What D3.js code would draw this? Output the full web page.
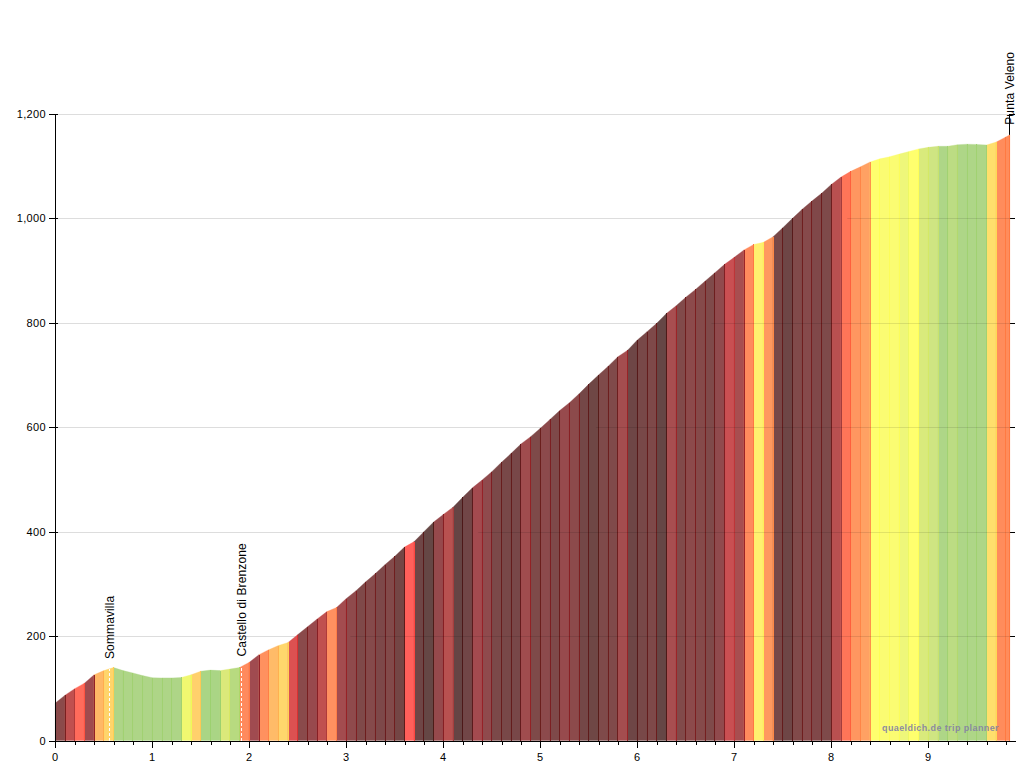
<!DOCTYPE html>
<html><head><meta charset="utf-8">
<script src="https://cdn.jsdelivr.net/npm/d3@7"></script>
<style>
html,body{margin:0;padding:0;background:#fff}
svg{display:block}
text{font-family:"Liberation Sans",Arial,sans-serif;fill:#000}
</style></head><body>
<script>
const lastKm = 9.84;
const elevation = [
  72,87,99.5,110,126,134,140,134,129.5,124.5,
  120.5,120,120,121,126,133,135,134,137,140,
  150,164.6,174,182,188,203,218,233,247,255,
  272,287,304,320,337,353,370.6,381,400,418.5,
  433,447,466,484,499,515,533,550,568,582,
  598,615,632,647,664,682.6,700,717,735,747.5,
  767,783,799,818,832.5,849,864,880,896,912,
  925.5,939.6,950,954,965,982,1000,1017.5,1033,1048,
  1065,1079,1090,1098.6,1108,1114,1118,1123,1128,1133,
  1136,1138,1138,1141,1142,1141.5,1140.6,1146,1156,1160];
const segmentColors = [
  "#8a4a4a","#c0504f","#ff6b5b","#a04b4e","#ffb866","#ffd56b","#aed587","#aed587","#aed587","#aed587",
  "#aed587","#aed587","#aed587","#f0f870","#ffd06c","#aad585","#aad585","#dbe97a","#b8da80","#ff8a5d",
  "#a04b50","#ff915f","#ffbb68","#ffd76c","#dc5151","#8a4a4b","#98494d","#c0504f","#ff9060","#a34c4f",
  "#8f4a4c","#7f4949","#854a4b","#7d4849","#824a4a","#744645","#ff5f5a","#6e4646","#654745","#96494c",
  "#b85150","#654444","#714647","#a34a4f","#8f4a4d","#7b4949","#784848","#784748","#a04c4e","#7e4a49",
  "#8c4a4c","#7e4949","#974a4d","#8c4a4b","#744747","#6f4745","#7f4a4a","#804a4a","#a44d4f","#6e4646",
  "#784848","#7e4949","#654645","#a84e50","#814a4a","#8c4a4b","#854a4a","#7f4a4a","#904a4d","#c94f52",
  "#a84e50","#ff8a5d","#fff06f","#ff985f","#784848","#6e4646","#814a4a","#864a4b","#804849","#7e4a4a",
  "#b85050","#ff7558","#ff9660","#ffa163","#ffff6e","#fbfc72","#fbfc72","#eef77a","#ffff6e","#d9ea7c",
  "#cfe582","#aed687","#bcdc83","#aed687","#aed687","#aed687","#ffdf6c","#ff8c5c","#ff8c5c"];
const xMajorTicks = [0,1,2,3,4,5,6,7,8,9];
const xMinorTicks = [0.2,0.4,0.6,0.8,1.2,1.4,1.6,1.8,2.2,2.4,2.6,2.8,3.2,3.4,3.6,3.8,4.2,4.4,4.6,4.8,5.2,5.4,5.6,5.8,6.2,6.4,6.6,6.8,7.2,7.4,7.6,7.8,8.2,8.4,8.6,8.8,9.2,9.4,9.6,9.8];
const yTicks = [0,200,400,600,800,1000,1200];
const placeNames = ["Sommavilla","Castello di Brenzone","Punta Veleno"];
const placeKm = [0.56,1.92,9.84];
const placeElevation = [137,142,1160];
const dashedPlaces = [0,1];
const credit = "quaeldich.de trip planner";

const W = 1024, H = 768;
const x = d3.scaleLinear().domain([0,9.9]).range([55.3,1015.6]);
const y = d3.scaleLinear().domain([0,1200]).range([740.6,113.9]);
const kmAt = i => i < elevation.length-1 ? i/10 : lastKm;
const points = elevation.map((e,i)=>({km:kmAt(i),e}));

const svg = d3.select("body").append("svg").attr("width",W).attr("height",H);
const axisStyle = g => {
  g.selectAll(".domain,line").attr("stroke","#000").attr("shape-rendering","crispEdges");
  g.selectAll("text").attr("font-size",11).attr("letter-spacing","0.35px").attr("fill","#000").attr("font-family",'"Liberation Sans",Arial,sans-serif');
};
const gridAxis = d3.axisLeft(y).tickValues(yTicks).tickSize(-(x(lastKm)-55)).tickFormat("");
const gridLines = (op) => svg.append("g").attr("transform","translate(55,0)").call(gridAxis)
  .call(g=>g.select(".domain").remove())
  .call(g=>g.selectAll("line").attr("stroke","#000").attr("stroke-opacity",op).attr("shape-rendering","crispEdges"));

// right axis behind the profile
svg.append("g").attr("transform",`translate(${Math.floor(x(lastKm))},0)`)
  .call(d3.axisRight(y).tickValues(yTicks).tickSize(6).tickSizeOuter(0).tickFormat(""))
  .call(axisStyle);

gridLines(0.135);

// profile
const area = d3.area().x(d=>x(d.km)).y0(y(0)).y1(d=>y(d.e));
const segs = segmentColors.map((c,i)=>({c,pts:[points[i],points[i+1]]}));
svg.append("g").selectAll("path").data(segs).join("path")
  .attr("d",d=>area(d.pts)).attr("fill",d=>d.c).attr("stroke",d=>d.c).attr("stroke-width",0.3);

// separators: right edge of every segment
const sepColor = c => { const h=d3.hsl(c); const l=h.l;
  return d3.hsl(h.h, Math.min(1,h.s+(l<0.5?0.5:0.08)*(1-l)), l-(l<0.5?0.2:0.16)*(1-l)).formatHex(); };
svg.append("g").selectAll("line").data(segs).join("line")
  .attr("x1",d=>x(d.pts[1].km)).attr("x2",d=>x(d.pts[1].km))
  .attr("y1",y(0)).attr("y2",d=>y(d.pts[1].e))
  .attr("stroke",d=>sepColor(d.c)).attr("stroke-width",1).attr("shape-rendering","crispEdges");

// gridlines seen through the profile, clipped to its outline
svg.append("clipPath").attr("id","profile-clip").append("path").attr("d",area(points));
gridLines(0.1).attr("clip-path","url(#profile-clip)");

// dashed markers
svg.append("g").selectAll("line").data(dashedPlaces).join("line")
  .attr("x1",i=>x(placeKm[i])).attr("x2",i=>x(placeKm[i]))
  .attr("y1",y(0)).attr("y2",i=>y(placeElevation[i]))
  .attr("stroke","#fff").attr("stroke-width",1).attr("stroke-dasharray","3,2").attr("shape-rendering","crispEdges");

// axes
svg.append("g").attr("transform","translate(55,0)")
  .call(d3.axisLeft(y).tickValues(yTicks).tickSize(6).tickPadding(3).tickSizeOuter(0).tickFormat(d3.format(",")))
  .call(axisStyle)
  .call(g=>g.selectAll(".tick line").attr("x1",3));
svg.append("g").attr("transform","translate(0,741)")
  .call(d3.axisBottom(x).tickValues(xMinorTicks).tickSize(4).tickSizeOuter(0).tickFormat(""))
  .call(axisStyle);
svg.append("g").attr("transform","translate(0,741)")
  .call(d3.axisBottom(x).tickValues(xMajorTicks).tickSize(7).tickPadding(5).tickSizeOuter(0).tickFormat(d3.format("d")))
  .call(axisStyle)
  .call(g=>g.selectAll(".tick text").attr("dx",-0.7));

// place labels
svg.append("g").selectAll("text").data(placeNames).join("text")
  .attr("transform",(d,i)=>`translate(${x(placeKm[i])+4},${y(placeElevation[i])-10}) rotate(-90)`)
  .attr("font-size",12).attr("letter-spacing","0.13px").text(d=>d);

// credit
svg.append("text").attr("x",999).attr("y",731).attr("text-anchor","end")
  .attr("font-size",9).attr("font-weight","bold").attr("letter-spacing","0.4px")
  .style("fill","#8583a3").attr("fill-opacity",0.95).text(credit);
</script>
</body></html>
